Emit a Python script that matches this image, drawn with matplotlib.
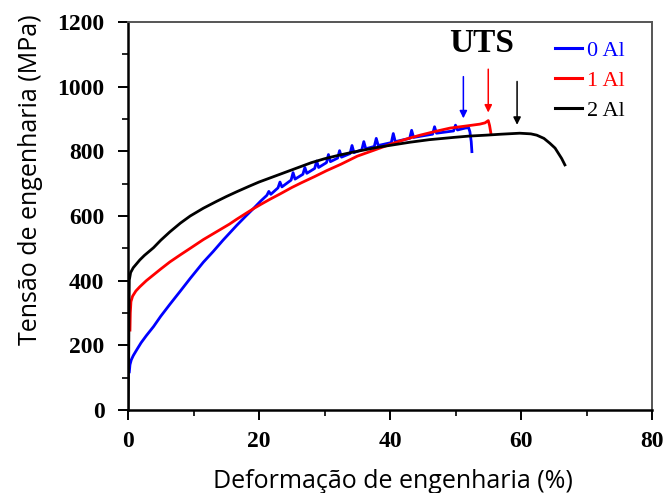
import matplotlib
matplotlib.use("Agg")
import matplotlib.pyplot as plt
from matplotlib.ticker import MultipleLocator

# Curvas tensão-deformação de engenharia (0, 1 e 2 % Al)
def_0al = [0.2, 0.3, 0.5, 0.8, 1.3, 2, 2.8, 3.9, 5, 6.4, 8, 9.5, 11.5, 13, 14.5,
           16.6, 18, 19.1, 20.2,
           21.2, 21.5, 21.8, 22.9, 23.2, 23.5, 24.9, 25.2, 25.5, 26.7, 27.0, 27.3,
           28.5, 28.8, 29.1, 30.3, 30.6, 30.9, 32.0, 32.3, 32.6, 33.9, 34.2, 34.5,
           35.7, 36.0, 36.3, 37.6, 37.9, 38.2, 40.2, 40.5, 40.8, 43.0, 43.3, 43.6,
           46.5, 46.8, 47.1, 49.7, 50.0, 50.3,
           51.5, 52.0, 52.2, 52.4, 52.5]
ten_0al = [118, 140, 155, 168, 185, 208, 230, 258, 290, 327, 368, 407, 457, 490, 525,
           571, 600, 622, 645,
           664, 676, 667, 687, 705, 690, 711, 734, 714, 729, 750, 732,
           747, 770, 750, 765, 790, 768, 779, 802, 782, 793, 818, 796,
           805, 830, 808, 815, 840, 818, 827, 855, 830, 840, 865, 843,
           853, 876, 856, 863, 881, 866,
           872, 873, 860, 830, 799]

def_1al = [0.3, 0.35, 0.45, 0.7, 1.2, 1.8, 2.8, 3.9, 5, 6.4, 8, 9.5, 11.5, 13, 14,
           15.5, 16.6, 18, 19.1, 20.2, 21.7, 23.2, 25, 26.5, 28.5, 30.3, 32.5, 35,
           37.5, 40.5, 42.5, 44.6, 47, 49.2, 51.5, 53.7, 54.5, 55.0, 55.2, 55.4]
ten_1al = [247, 300, 335, 352, 368, 381, 400, 418, 436, 458, 480, 500, 527, 545, 557,
           575, 590, 608, 622, 635, 652, 668, 688, 703, 722, 740, 760, 785,
           803, 825, 838, 850, 862, 872, 878, 884, 888, 895, 880, 856]

def_2al = [0, 0.1, 0.15, 0.2, 0.4, 0.8, 1.3, 1.8, 2.5, 3.2, 3.9, 5, 6.4, 8, 9.5,
           11.5, 13.5, 15, 16.6, 18.5, 20, 22, 24, 26, 28, 30, 32, 34, 36, 38, 40.5,
           43, 46, 49.7, 52, 54.7, 57, 59.8, 61.5, 62.4, 63.5, 64.4, 65.2, 65.7,
           66.2, 66.7]
ten_2al = [0, 150, 300, 402, 425, 440, 452, 464, 478, 490, 502, 525, 551, 578, 600,
           624, 645, 660, 675, 692, 705, 720, 735, 750, 765, 777, 787, 796, 804, 812, 820,
           828, 836, 843, 847, 850, 853, 856, 854, 850, 840, 825, 810, 794,
           778, 758]

# Setas do UTS: (x, y inicial, y da ponta, cor)
setas_uts = [(51.2, 1031, 902, "#0000ff"),
             (55.0, 1054, 920, "#ff0000"),
             (59.4, 1016, 882, "black")]

serif = "Liberation Serif"
sans = "Open Sans"

fig = plt.figure(figsize=(6.66, 4.93), dpi=100)
ax = fig.add_axes([0.1922, 0.1684, 0.7868, 0.787])

ax.plot(def_0al, ten_0al, color="#0000ff", lw=2.0, label="0 Al")
ax.plot(def_1al, ten_1al, color="#ff0000", lw=2.0, label="1 Al")
ax.plot(def_2al, ten_2al, color="black", lw=2.0, label="2 Al")

for x, y0, y1, cor in setas_uts:
    ax.annotate("", xy=(x, y1), xytext=(x, y0),
                arrowprops=dict(arrowstyle="-|>", color=cor, lw=1.1,
                                mutation_scale=11, shrinkA=0, shrinkB=0))

ax.text(54.0, 1134, "UTS", ha="center", va="center", fontsize=24,
        fontweight="bold", family=serif)

ax.set_xlim(0, 80)
ax.set_ylim(0, 1200)
ax.xaxis.set_major_locator(MultipleLocator(20))
ax.xaxis.set_minor_locator(MultipleLocator(10))
ax.yaxis.set_major_locator(MultipleLocator(200))
ax.yaxis.set_minor_locator(MultipleLocator(100))
ax.tick_params(which="major", direction="out", length=7, width=1.4,
               labelsize=17, pad=10)
ax.tick_params(which="minor", direction="out", length=4, width=1.2)
ax.tick_params(axis="x", which="major", pad=8)
for lbl in ax.get_xticklabels() + ax.get_yticklabels():
    lbl.set_family(serif)
    lbl.set_fontweight("bold")

for lado in ["left", "bottom"]:
    ax.spines[lado].set_linewidth(1.8)
    ax.spines[lado].set_color("black")
for lado in ["top", "right"]:
    ax.spines[lado].set_linewidth(1.4)
    ax.spines[lado].set_color("#555555")

leg = ax.legend(loc="upper left", bbox_to_anchor=(0.815, 0.953), frameon=False,
                prop={"family": serif, "size": 16}, handlelength=1.2,
                handletextpad=0.25, labelspacing=0.43, borderpad=0,
                borderaxespad=0, labelcolor="linecolor")
for linha in leg.get_lines():
    linha.set_linewidth(2.2)

fig.text(393 / 666, 1 - 481 / 493, "Deformação de engenharia (%)",
         ha="center", va="center", fontsize=18, family=sans)
fig.text(31 / 666, 1 - 180 / 493, "Tensão de engenharia (MPa)",
         ha="center", va="center", rotation=90, fontsize=18, family=sans)

fig.savefig("out.png", dpi=100, facecolor="white")
